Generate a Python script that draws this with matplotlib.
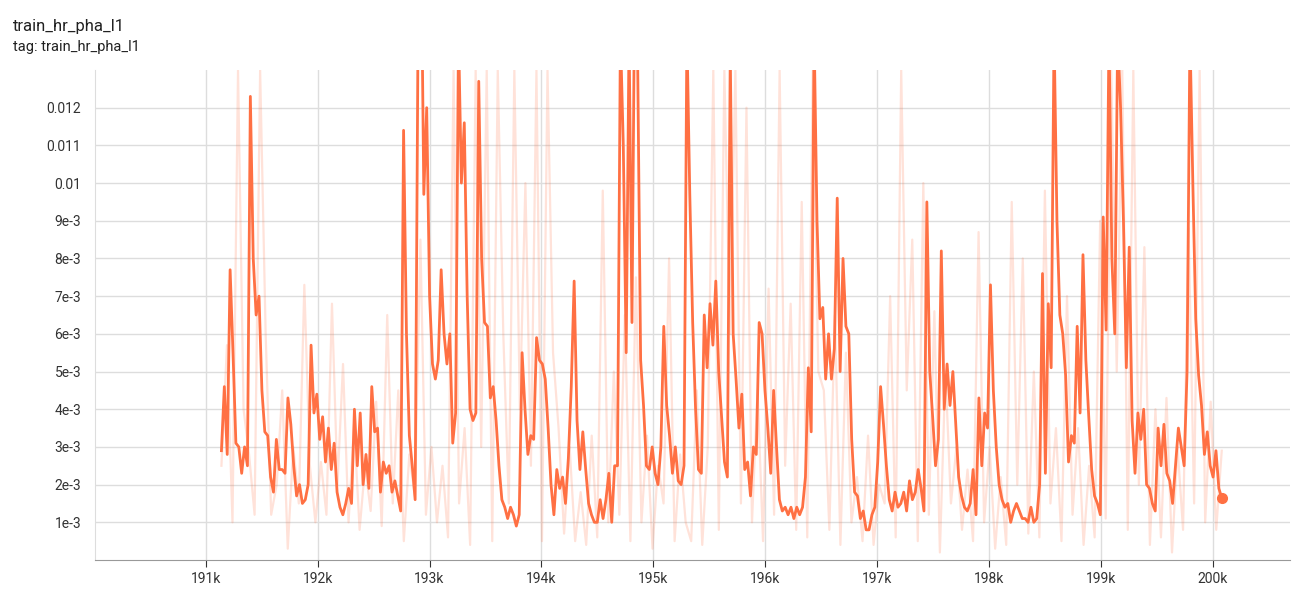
import numpy as np
import matplotlib
matplotlib.use("Agg")
import matplotlib.pyplot as plt

# smoothed series values (units of 1e-3)
smooth_vals = [2.9,4.6,2.8,7.7,5.5,3.1,3.0,2.3,3.0,2.5,12.3,8,6.5,7.0,4.5,3.4,3.3,2.2,1.8,3.2,2.4,2.4,2.3,4.3,3.6,2.5,1.7,2.0,1.5,1.6,2.0,5.7,3.9,4.4,3.2,3.8,2.6,3.5,2.4,3.1,1.8,1.4,1.2,1.5,1.9,1.5,4.0,2.5,3.9,2.0,2.8,1.9,4.6,3.4,3.5,1.8,2.6,2.3,2.5,1.8,2.1,1.7,1.3,11.4,6,3.3,2.5,1.6,14,17,9.7,12.0,7,5.2,4.8,5.3,7.7,6,5.2,6.0,3.1,3.9,14,10,11.6,7,4.0,3.7,3.9,12.7,8,6.3,6.2,4.3,4.6,3.7,2.5,1.6,1.4,1.1,1.4,1.2,0.9,1.2,5.5,4.0,2.8,3.3,3.2,5.9,5.3,5.2,4.8,3.5,2.0,1.2,2.4,1.9,2.2,1.5,2.7,4.6,7.4,3.7,2.4,3.4,2.4,1.5,1.2,1.0,1.0,1.6,1.1,1.6,2.3,1.0,2.5,2.5,14,11,5.5,14,6.3,16,13,5.3,4.1,2.5,2.4,3.0,2.3,2.0,3.0,6.2,4.1,3.3,2.3,3.0,2.1,2.0,2.5,14,9.7,6.3,4.0,2.4,2.3,6.5,5.1,6.8,5.7,7.4,5.0,3.8,2.6,2.2,13.5,6,4.8,3.5,4.4,2.4,2.6,1.7,3.0,2.8,6.3,6.0,4.5,3.5,2.3,4.5,3.0,1.6,1.3,1.4,1.2,1.4,1.1,1.4,1.2,1.4,2.2,5.1,3.4,14,9,6.4,6.7,4.8,6.0,4.8,5.6,9.6,5.0,8.0,6.2,6.0,3.2,1.8,1.7,1.1,1.3,0.8,0.8,1.2,1.4,2.6,4.6,3.6,2.5,1.6,1.3,1.8,1.4,1.5,1.8,1.3,2.1,1.6,1.8,2.4,1.9,1.3,9.5,5.0,3.8,2.5,3.2,8.2,4.0,5.2,4.1,5.0,3.6,2.2,1.7,1.4,1.3,1.5,2.4,1.2,4.3,2.5,3.9,3.5,7.3,4.5,3.0,2.0,1.6,1.4,1.5,1.0,1.3,1.5,1.3,1.1,1.1,1.0,1.4,1.0,1.1,2.0,7.6,2.3,6.8,5.1,14,9,6.5,6.0,4.9,2.6,3.3,3.1,6.2,3.9,8.1,5.3,3.8,2.4,1.7,1.5,1.2,9.1,6.1,14,8,6.0,14,12,9,5.1,8.3,3.7,2.3,3.9,3.2,4.0,2.0,1.9,1.5,1.3,3.5,2.5,3.6,2.3,2.1,1.5,2.5,3.5,3.0,2.5,5.0,14,10,6.4,4.9,4.1,2.8,3.4,2.5,2.2,2.9,1.9,1.65]

# raw series values (units of 1e-3)
raw_vals = [2.5,5.7,1.0,13,4,2.8,1.2,13,6,1.2,2.0,4.5,0.3,3.0,1.5,7.3,2.5,1.0,2.6,1.2,
6.8,2.0,5.2,1.0,3.6,0.8,2.5,1.3,4.2,0.9,6.5,1.5,4.5,0.5,2.8,1.7,8.5,1.2,3.0,1.0,
2.5,0.6,13,1.5,3.5,0.4,13,3,13,0.5,13,6,1.5,13,4,10,2.5,13,0.5,13,
5.5,3.5,0.7,3.0,0.5,1.8,0.4,3.3,0.6,9.8,1.0,5.0,1.2,6.5,0.5,7.5,1.0,3.3,0.3,2.5,
1.5,8.0,0.5,2.8,1.0,0.5,4.5,0.4,3.0,13,0.8,13,6,13,1.5,12,1.0,4.5,0.5,7.2,
1.2,13,2.5,6.8,0.8,9.5,0.6,13,5,4.5,0.8,6.5,0.4,5.5,1.0,2.2,0.5,3.3,0.4,2.0,
1.5,7.0,0.6,13,4.5,8.5,0.5,10,1.2,6.6,0.2,5.0,1.5,3.0,0.8,2.4,0.5,8.7,1.0,3.0,
0.3,2.2,0.4,9.5,2.0,8,0.7,5.0,0.6,9.8,1.5,3.5,0.5,7.0,1.2,3.5,0.4,2.5,0.6,9.0,
1.1,13,5,13,0.8,13,2,8.3,0.4,4.0,0.6,4.3,0.2,3.0,0.8,8.8,1.5,13,1.0,4.2,0.8,2.9]

step_start, step_end = 191140, 200080
smooth_steps = np.linspace(step_start, step_end, len(smooth_vals))
raw_steps = np.linspace(step_start, step_end, len(raw_vals))

xticks = [191000,192000,193000,194000,195000,196000,197000,198000,199000,200000]
xlabels = ["191k","192k","193k","194k","195k","196k","197k","198k","199k","200k"]
yticks = [0.001,0.002,0.003,0.004,0.005,0.006,0.007,0.008,0.009,0.010,0.011,0.012]
ylabels = ["1e-3","2e-3","3e-3","4e-3","5e-3","6e-3","7e-3","8e-3","9e-3","0.01","0.011","0.012"]

plt.rcParams['font.family'] = ['Roboto', 'DejaVu Sans']
fig = plt.figure(figsize=(13.05, 6.04), dpi=100)
ax = fig.add_axes([95/1305, 44/604, 1195/1305, 490/604])
col = '#ff7043'
ax.plot(raw_steps, np.array(raw_vals)*1e-3, color=col, alpha=0.2, lw=1.6)
ax.plot(smooth_steps, np.array(smooth_vals)*1e-3, color=col, lw=2)
ax.plot([smooth_steps[-1]], [smooth_vals[-1]*1e-3], 'o', color=col, ms=7)
ax.set_xlim(190010, 200690)
ax.set_ylim(0, 0.013)
ax.set_xticks(xticks, xlabels)
ax.set_yticks(yticks, ylabels)
ax.grid(True, color='#dddddd', lw=1)
ax.set_axisbelow(True)
for s in ['top', 'right']:
    ax.spines[s].set_visible(False)
ax.spines['left'].set_color('#dddddd')
ax.spines['bottom'].set_color('#999999')
ax.tick_params(axis='y', length=0, labelsize=10, colors='#333333', pad=10)
ax.tick_params(axis='x', length=5, labelsize=10, colors='#333333', direction='out')
ax.xaxis.set_minor_locator(matplotlib.ticker.MultipleLocator(1000))
ax.tick_params(axis='x', which='minor', length=5, color='#999999')
fig.text(13/1305, 1-27/604, "train_hr_pha_l1", fontsize=12, color='#212121', va='center')
fig.text(13/1305, 1-47/604, "tag: train_hr_pha_l1", fontsize=10.5, color='#212121', va='center')
fig.savefig("out.png", dpi=100)
